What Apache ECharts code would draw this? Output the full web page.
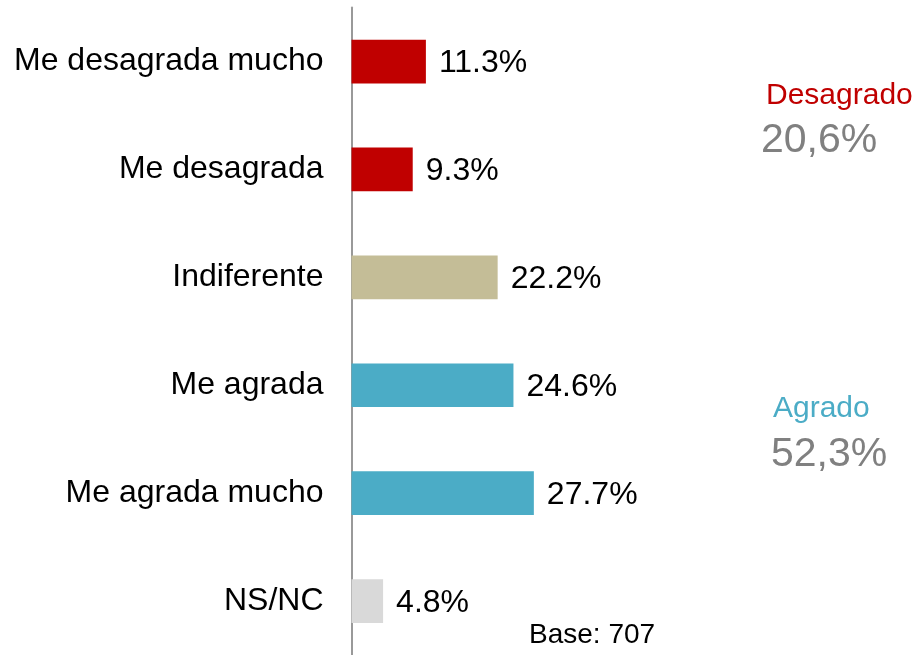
<!DOCTYPE html>
<html>
<head>
<meta charset="utf-8">
<script src="https://cdn.jsdelivr.net/npm/echarts@6/dist/echarts.min.js"></script>
<style>
  html, body { margin: 0; padding: 0; background: #fff; }
  #chart { width: 922px; height: 655px; }
</style>
</head>
<body>
<div id="chart"></div>
<script>
const categories = ["Me desagrada mucho", "Me desagrada", "Indiferente", "Me agrada", "Me agrada mucho", "NS/NC"];
const values = [11.3, 9.3, 22.2, 24.6, 27.7, 4.8];
const barColors = ["#C00000", "#C00000", "#C4BD97", "#4BACC6", "#4BACC6", "#D9D9D9"];

const font = "'Liberation Sans', Arial, sans-serif";
const myChart = echarts.init(document.getElementById("chart"));

const option = {
  animation: false,
  grid: { left: 351.5, top: 7.6, width: 395, height: 652.5, containLabel: false },
  xAxis: {
    type: "value",
    min: 0,
    max: 60,
    show: false
  },
  yAxis: {
    type: "category",
    inverse: true,
    data: categories,
    axisLine: { show: true, lineStyle: { color: "#999999", width: 2 } },
    axisTick: { show: false },
    axisLabel: { fontSize: 32, color: "#000", fontFamily: font, margin: 28, padding: [8, 0, 0, 0] }
  },
  series: [
    {
      type: "bar",
      barWidth: "40.5%",
      data: values.map((v, i) => ({ value: v, itemStyle: { color: barColors[i] } })),
      label: {
        show: true,
        position: "right",
        distance: 13,
        offset: [0, 2],
        fontSize: 32,
        color: "#000",
        fontFamily: font,
        formatter: p => p.value.toFixed(1) + "%"
      }
    }
  ],
  graphic: [
    { type: "text", left: 766, top: 81, style: { text: "Desagrado", fontSize: 30, fill: "#C00000", fontFamily: font } },
    { type: "text", left: 761, top: 120, style: { text: "20,6%", fontSize: 41, fill: "#808080", fontFamily: font } },
    { type: "text", left: 773, top: 393.5, style: { text: "Agrado", fontSize: 30, fill: "#4BACC6", fontFamily: font } },
    { type: "text", left: 771, top: 434, style: { text: "52,3%", fontSize: 41, fill: "#808080", fontFamily: font } },
    { type: "text", left: 529, top: 621.5, style: { text: "Base: 707", fontSize: 28, fill: "#000", fontFamily: font } }
  ]
};
myChart.setOption(option);
</script>
</body>
</html>
